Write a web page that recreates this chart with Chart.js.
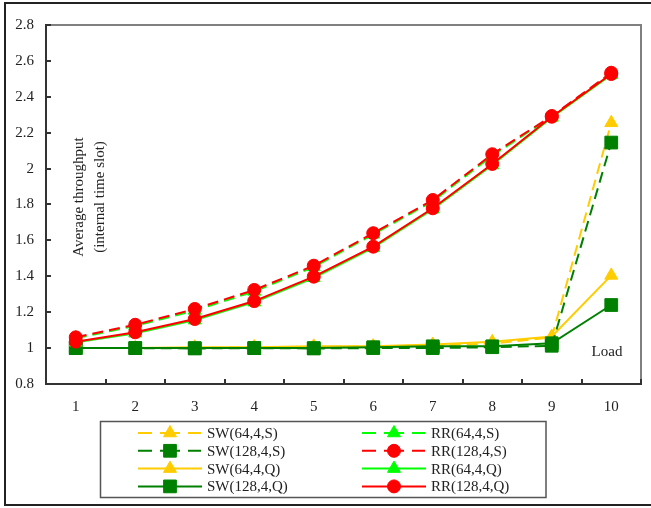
<!DOCTYPE html>
<html>
<head>
<meta charset="utf-8">
<script src="https://cdn.jsdelivr.net/npm/chart.js@4.4.1/dist/chart.umd.min.js"></script>
<style>
  html, body { margin: 0; padding: 0; background: #fff; }
  #wrap { position: relative; width: 651px; height: 508px; }
</style>
</head>
<body>
<div id="wrap"><canvas id="c" width="651" height="508"></canvas></div>
<script>
// Load levels on the x axis
const loads = ['1', '2', '3', '4', '5', '6', '7', '8', '9', '10'];
// Y axis tick values
const yTicks = [0.8, 1, 1.2, 1.4, 1.6, 1.8, 2, 2.2, 2.4, 2.6, 2.8];

// Average throughput (internal time slot) per load
const sw64S  = [1.0, 1.0, 1.0, 1.005, 1.005, 1.01, 1.015, 1.025, 1.06, 2.255];
const sw128S = [1.0, 1.0, 0.998, 1.0, 0.998, 1.0, 1.0, 1.005, 1.013, 2.145];
const sw64Q  = [1.0, 1.0, 1.005, 1.005, 1.01, 1.01, 1.02, 1.035, 1.065, 1.405];
const sw128Q = [1.0, 1.0, 1.0, 1.0, 1.0, 1.005, 1.01, 1.01, 1.027, 1.24];
const rr64S  = [1.055, 1.124, 1.21, 1.316, 1.452, 1.634, 1.818, 2.072, 2.29, 2.53];
const rr128S = [1.06, 1.13, 1.218, 1.324, 1.459, 1.64, 1.825, 2.08, 2.293, 2.534];
const rr64Q  = [1.032, 1.083, 1.156, 1.256, 1.392, 1.56, 1.774, 2.02, 2.285, 2.523];
const rr128Q = [1.036, 1.088, 1.162, 1.262, 1.398, 1.565, 1.779, 2.026, 2.289, 2.527];

const YELLOW = '#FFCC00', DKGREEN = '#008000', LIME = '#00FF00', RED = '#FF0000';
const FONT = "'Liberation Serif', 'DejaVu Serif', serif";
const DASH = [11, 6];

function series(label, data, color, style, dashed, order) {
  const radius = style === 'rect' ? 9 : (style === 'circle' ? 6.5 : 7.5);
  return {
    label, data, order,
    borderColor: color, backgroundColor: color,
    borderWidth: 2, borderDash: dashed ? DASH : [],
    pointStyle: style, pointRadius: radius, pointHoverRadius: radius,
    pointBackgroundColor: color, pointBorderColor: color, pointBorderWidth: 1,
    tension: 0, fill: false
  };
}

const datasets = [
  series('SW(64,4,S)',  sw64S,  YELLOW,  'triangle', true,  7),
  series('SW(128,4,S)', sw128S, DKGREEN, 'rect',     true,  5),
  series('SW(64,4,Q)',  sw64Q,  YELLOW,  'triangle', false, 6),
  series('SW(128,4,Q)', sw128Q, DKGREEN, 'rect',     false, 4),
  series('RR(64,4,S)',  rr64S,  LIME,    'triangle', true,  3),
  series('RR(128,4,S)', rr128S, RED,     'circle',   true,  1),
  series('RR(64,4,Q)',  rr64Q,  LIME,    'triangle', false, 2),
  series('RR(128,4,Q)', rr128Q, RED,     'circle',   false, 0)
];

function drawMarker(ctx, style, color, x, y) {
  ctx.save();
  ctx.fillStyle = color; ctx.strokeStyle = color; ctx.lineWidth = 1;
  ctx.setLineDash([]);
  ctx.beginPath();
  if (style === 'circle') {
    ctx.arc(x, y, 6.5, 0, Math.PI * 2);
  } else if (style === 'rect') {
    const s = 9 * Math.SQRT1_2;
    ctx.rect(x - s, y - s, 2 * s, 2 * s);
  } else {
    const r = 7.5;
    for (let k = 0; k < 3; k++) {
      const a = k * 2 * Math.PI / 3;
      const px = x + Math.sin(a) * r, py = y - Math.cos(a) * r;
      k === 0 ? ctx.moveTo(px, py) : ctx.lineTo(px, py);
    }
    ctx.closePath();
  }
  ctx.fill(); ctx.stroke();
  ctx.restore();
}

// Plot frame with inward tick marks
const framePlugin = {
  id: 'frame',
  beforeDatasetsDraw(chart) {
    const { ctx, chartArea: a, scales } = chart;
    ctx.save();
    ctx.lineWidth = 2;
    ctx.strokeStyle = '#808080';
    ctx.beginPath();
    ctx.moveTo(a.left, a.top); ctx.lineTo(a.right, a.top); ctx.lineTo(a.right, a.bottom);
    ctx.stroke();
    ctx.strokeStyle = '#333';
    ctx.beginPath();
    ctx.moveTo(a.left, a.top - 1); ctx.lineTo(a.left, a.bottom); ctx.lineTo(a.right + 1, a.bottom);
    // y ticks
    yTicks.forEach(v => {
      const y = Math.round(scales.y.getPixelForValue(v));
      ctx.moveTo(a.left, y); ctx.lineTo(a.left + 5, y);
    });
    // x ticks between categories
    for (let i = 1; i <= loads.length; i++) {
      const x = Math.round((scales.x.getPixelForValue(i - 1) + (i < loads.length ? scales.x.getPixelForValue(i) : 2 * scales.x.getPixelForValue(i - 1) - scales.x.getPixelForValue(i - 2))) / 2);
      ctx.moveTo(x, a.bottom); ctx.lineTo(x, a.bottom - 5);
    }
    ctx.stroke();
    ctx.restore();
  },
  afterDraw(chart) {
    const { ctx } = chart;
    ctx.save();
    // axis title inside the plot
    ctx.fillStyle = '#222';
    ctx.font = '15px ' + FONT;
    ctx.textAlign = 'center'; ctx.textBaseline = 'middle';
    ctx.save();
    ctx.translate(79, 197); ctx.rotate(-Math.PI / 2);
    ctx.fillText('Average throughput', 0, 0);
    ctx.restore();
    ctx.save();
    ctx.translate(100, 197); ctx.rotate(-Math.PI / 2);
    ctx.fillText('(internal time slot)', 0, 0);
    ctx.restore();
    ctx.fillText('Load', 607, 352);

    // legend box
    ctx.lineWidth = 1.5; ctx.strokeStyle = '#555';
    ctx.strokeRect(100.5, 421.5, 445.5, 76);
    chart.data.datasets.forEach((ds, i) => {
      const col = i < 4 ? 0 : 1, row = i % 4;
      const x0 = col ? 362 : 138, y = 433 + row * 17.8;
      ctx.strokeStyle = ds.borderColor; ctx.lineWidth = 2;
      ctx.beginPath();
      if (ds.borderDash.length) {
        [[0, 14], [22, 42], [50, 63]].forEach(([s, e]) => { ctx.moveTo(x0 + s, y); ctx.lineTo(x0 + e, y); });
      } else {
        ctx.moveTo(x0, y); ctx.lineTo(x0 + 64, y);
      }
      ctx.stroke();
      drawMarker(ctx, ds.pointStyle, ds.borderColor, x0 + 32, y);
      ctx.fillStyle = '#222';
      ctx.textAlign = 'left';
      ctx.fillText(ds.label, x0 + 69, y + 1);
    });

    // outer frame
    ctx.strokeStyle = '#222'; ctx.lineWidth = 2;
    ctx.strokeRect(5, 3, 660, 502);
    ctx.restore();
  }
};

new Chart(document.getElementById('c'), {
  type: 'line',
  data: { labels: loads, datasets },
  options: {
    responsive: false,
    devicePixelRatio: 1,
    animation: false,
    layout: { padding: { top: 25, right: 3, left: 0, bottom: 0 } },
    plugins: { legend: { display: false }, tooltip: { enabled: false } },
    scales: {
      x: {
        type: 'category',
        offset: true,
        grid: { display: false, drawTicks: false },
        border: { display: false },
        ticks: { color: '#222', font: { family: FONT, size: 15 }, padding: 14, maxRotation: 0 },
        afterFit(s) { s.height = 124; }
      },
      y: {
        type: 'linear',
        min: 0.8, max: 2.8,
        grid: { display: false, drawTicks: false },
        border: { display: false },
        afterBuildTicks(s) { s.ticks = yTicks.map(v => ({ value: v })); },
        ticks: {
          color: '#222', font: { family: FONT, size: 15 }, padding: 12,
          callback: v => String(+Number(v).toFixed(1))
        },
        afterFit(s) { s.width = 46; }
      }
    }
  },
  plugins: [framePlugin]
});
</script>
</body>
</html>
